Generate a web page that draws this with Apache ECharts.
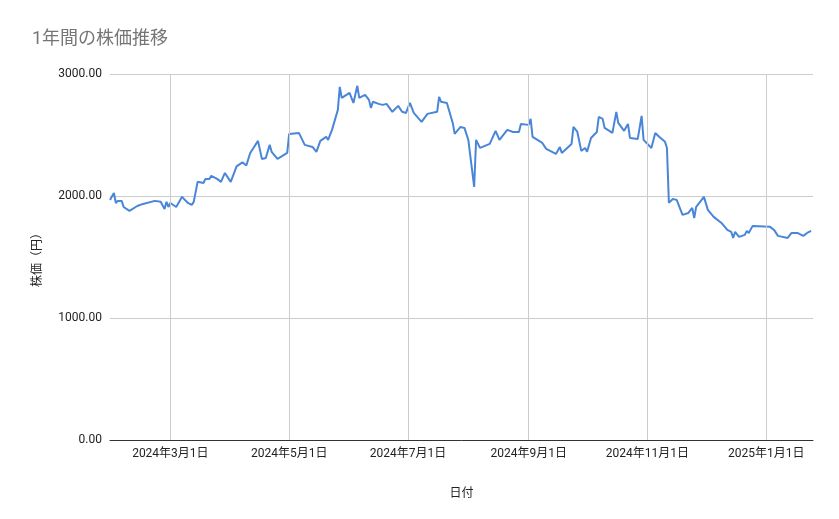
<!DOCTYPE html><html><head><meta charset="utf-8"><script src="https://cdn.jsdelivr.net/npm/echarts@6/dist/echarts.min.js"></script></head><body style="margin:0"><div id="c" style="width:839px;height:519px"></div><script>
const startDate='2024-01-30';
const dayOffsets=[0,2,3,4,6,7,10,14,15,17,23,26,28,29,30,31,34,37,40,42,43,45,48,49,51,52,55,57,59,62,63,65,68,69,70,72,73,76,78,79,80,82,83,84,86,91,92,97,100,104,106,108,111,112,114,117,118,119,120,123,124,125,127,128,131,133,134,135,138,140,142,145,148,150,152,154,156,160,163,168,169,170,173,176,177,180,182,184,187,188,189,190,195,198,200,202,204,207,210,211,215,216,217,218,222,224,225,229,231,232,237,238,240,242,244,245,247,250,251,253,254,258,260,261,264,266,267,268,271,273,274,278,280,282,285,286,287,289,291,294,297,299,300,301,302,305,307,310,314,317,319,320,321,323,326,327,328,330,339,341,343,348,350,353,356,358,360];
const prices=[1968,2025,1943,1960,1960,1910,1878,1918,1910,1935,1960,1952,1894,1952,1910,1943,1910,1993,1943,1927,1952,2116,2107,2140,2140,2165,2140,2116,2189,2116,2132,2243,2276,2276,2250,2353,2353,2452,2304,2320,2312,2419,2362,2362,2304,2353,2509,2517,2419,2402,2362,2452,2485,2460,2542,2706,2895,2804,2796,2845,2845,2763,2903,2804,2829,2788,2722,2772,2755,2747,2755,2690,2739,2690,2681,2763,2681,2608,2673,2690,2812,2772,2763,2599,2509,2566,2558,2460,2075,2460,2476,2394,2427,2534,2460,2501,2542,2525,2525,2591,2583,2632,2485,2501,2435,2386,2402,2345,2402,2353,2427,2566,2525,2370,2394,2362,2476,2525,2648,2632,2558,2517,2690,2599,2534,2591,2476,2460,2468,2657,2460,2394,2517,2485,2444,2394,1944,1976,1968,1845,1861,1902,1820,1911,1919,1993,1886,1829,1779,1722,1706,1656,1706,1665,1681,1714,1697,1755,1747,1722,1673,1656,1697,1697,1673,1697,1714];
const tickDates=['2024-03-01','2024-05-01','2024-07-01','2024-09-01','2024-11-01','2025-01-01'];
const yTicks=[0,1000,2000,3000];
const DAY=86400000, t0=Date.parse(startDate+'T00:00:00Z');
const data=dayOffsets.map((d,i)=>[t0+d*DAY,prices[i]]);
const tickMs=tickDates.map(s=>Date.parse(s+'T00:00:00Z'));
const c=echarts.init(document.getElementById('c'));
c.setOption({
 animation:false,
 title:{text:'1年間の株価推移',left:27,top:26,textStyle:{color:'#757575',fontSize:18,fontWeight:'normal',fontFamily:'Roboto, "Noto Sans CJK JP"'}},
 grid:{left:110,right:26,top:74,bottom:79},
 xAxis:{type:'value',min:t0,max:t0+361*DAY,name:'日付',nameLocation:'middle',nameGap:46,
  nameTextStyle:{color:'#222',fontSize:12,fontFamily:'"Noto Sans CJK JP"'},
  axisLine:{show:true,lineStyle:{color:'#333'}},axisTick:{show:false},splitLine:{show:false},
  axisLabel:{customValues:tickMs,color:'#222',fontSize:12,fontFamily:'Roboto, "Noto Sans CJK JP"',margin:8,
   formatter:v=>{const d=new Date(v);return d.getUTCFullYear()+'年'+(d.getUTCMonth()+1)+'月'+d.getUTCDate()+'日';}}},
 yAxis:{type:'value',min:yTicks[0],max:yTicks[3],interval:1000,name:'株価（円）',nameLocation:'middle',nameGap:68,
  nameTextStyle:{color:'#222',fontSize:12,fontFamily:'"Noto Sans CJK JP"'},
  axisLabel:{color:'#222',fontSize:12,fontFamily:'Roboto',formatter:v=>v.toFixed(2)},
  splitLine:{lineStyle:{color:'#ccc'}},axisLine:{show:false},axisTick:{show:false}},
 series:[{type:'line',data:data,showSymbol:false,lineStyle:{color:'#4a86d8',width:2},itemStyle:{color:'#4a86d8'},
  markLine:{silent:true,symbol:'none',label:{show:false},lineStyle:{color:'#ccc',type:'solid',width:1},data:tickMs.map(t=>({xAxis:t}))}}]
});
</script></body></html>
